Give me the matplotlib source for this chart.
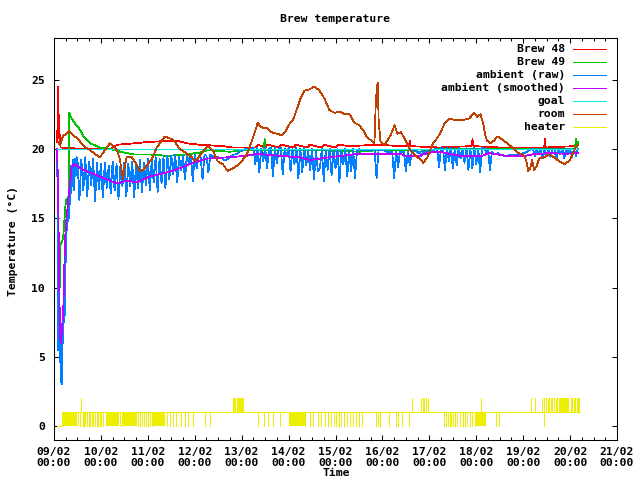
import datetime
import numpy as np
import matplotlib
matplotlib.use("Agg")
import matplotlib.pyplot as plt
from matplotlib.lines import Line2D
from matplotlib.ticker import MultipleLocator, FuncFormatter

plt.rcParams['font.family'] = ['DejaVu Sans Mono']
plt.rcParams['font.weight'] = 'bold'
plt.rcParams['font.size'] = 8.2

START = datetime.datetime(2015, 2, 9)

# all times are days since 09/02 00:00
brew48_t = [0.07, 0.08, 0.09, 0.10, 0.12, 0.14, 0.6, 1.2, 1.35, 1.7, 2.0, 2.6, 2.85, 3.1, 3.6,
            3.8, 4.3, 4.35, 4.5, 4.55, 4.8, 4.85, 5.1, 5.15, 5.4, 5.45, 5.7, 5.75, 6.0, 6.05,
            6.3, 6.9, 7.4, 7.57, 7.58, 7.59, 8.2, 8.9, 8.92, 8.94, 9.5, 10.45, 10.46, 10.48,
            11.1, 11.17]
brew48_v = [20.5, 24.5, 20.8, 22.5, 21.0, 20.1, 20.0, 20.0, 20.3, 20.4, 20.5, 20.6, 20.4, 20.3, 20.2,
            20.1, 20.1, 20.3, 20.1, 20.3, 20.1, 20.3, 20.1, 20.3, 20.1, 20.3, 20.1, 20.3, 20.1, 20.3,
            20.2, 20.3, 20.2, 20.2, 20.6, 20.2, 20.1, 20.2, 20.7, 20.2, 20.1, 20.1, 20.7, 20.1,
            20.2, 20.3]

brew49_t = [0.11, 0.12, 0.13, 0.19, 0.21, 0.24, 0.26, 0.30, 0.32, 0.325, 0.36, 0.41, 0.55, 0.63,
            0.77, 0.98, 1.34, 1.41, 1.69, 2.04, 2.40, 2.83, 3.13, 3.26, 3.74, 4.11, 4.47, 4.49,
            4.51, 5.66, 6.51, 6.87, 7.57, 7.79, 8.21, 9.66, 10.9, 11.1, 11.13, 11.15, 11.17]
brew49_v = [13.1, 10.0, 13.0, 13.5, 14.2, 15.8, 16.3, 16.5, 16.6, 22.6, 22.3, 22.0, 21.4, 20.9,
            20.4, 20.1, 19.9, 19.8, 19.6, 19.6, 19.5, 19.6, 19.75, 19.9, 19.8, 19.9, 19.9, 20.7,
            19.9, 19.9, 19.8, 19.9, 19.9, 19.8, 20.0, 20.0, 20.0, 20.0, 20.7, 20.1, 20.5]

# ambient (raw): start-up transient, then hourly samples from 09/02 12:00
raw_start_t = [0.07, 0.085, 0.095, 0.11, 0.125, 0.14, 0.155, 0.17, 0.185, 0.2, 0.215, 0.23,
               0.245, 0.26, 0.275, 0.29, 0.305, 0.32, 0.335, 0.35, 0.365, 0.38, 0.40, 0.42,
               0.44, 0.46, 0.48]
raw_start_v = [20.0, 5.5, 12.0, 6.0, 8.5, 3.2, 7.0, 3.0, 8.6, 6.0, 10.3, 8.0,
               14.0, 11.8, 15.6, 14.7, 16.3, 15.0, 17.5, 16.0, 18.8, 17.3, 19.2, 17.0,
               19.3, 18.0, 19.4]
raw_hourly = [
    19.3, 16.3, 19.2, 17.0, 19.4, 16.6, 19.1, 17.4, 19.3, 16.2, 19.0, 17.1,
    18.9, 16.5, 19.0, 17.2, 18.8, 16.8, 19.1, 17.0, 18.9, 16.4, 18.8, 17.3,
    19.0, 16.6, 18.9, 17.3, 19.1, 16.5, 19.0, 17.2, 19.2, 16.9, 19.0, 17.4,
    19.3, 17.0, 19.2, 17.6, 19.4, 16.9, 19.3, 17.5, 19.4, 17.2, 19.5, 17.8,
    19.5, 18.2, 19.6, 17.6, 19.4, 18.5, 19.5, 17.8, 19.6, 18.9, 19.5, 17.7,
    19.6, 18.6, 19.5, 19.4, 17.8, 19.6, 19.5, 18.3, 19.6, 19.5, 19.5, 19.4,
    19.4, 19.3, 19.3, 19.2, 19.2, 19.3, 19.4, 19.5, 19.6, 19.6, 19.7, 19.8,
    19.9, 19.9, 20.0, 20.0, 20.1, 20.0, 20.1, 18.9, 20.1, 18.3, 20.0, 19.1,
    20.1, 18.6, 20.0, 20.1, 18.0, 20.1, 19.0, 20.0, 20.1, 18.2, 20.0, 19.5,
    20.1, 18.4, 20.0, 18.9, 20.1, 17.9, 20.0, 18.3, 20.1, 18.8, 19.9, 18.5,
    20.0, 17.8, 19.9, 18.4, 18.6, 20.0, 17.7, 19.9, 18.5, 20.0, 18.1, 19.9,
    18.6, 20.0, 17.6, 19.9, 18.9, 20.0, 18.0, 19.9, 18.4, 20.0, 17.9, 19.9,
    20.0, 19.9, 19.9, 19.9, 19.9, 19.9, 19.9, 19.9, 19.9, 17.9, 19.9, 19.9,
    19.9, 19.9, 19.8, 19.8, 19.8, 19.8, 17.9, 19.8, 18.7, 19.8, 19.8, 19.8,
    18.4, 19.8, 18.8, 19.8, 19.9, 19.9, 19.7, 19.8, 19.5, 19.9, 19.6, 19.8,
    19.9, 19.9, 19.8, 20.0, 20.0, 18.7, 20.1, 20.0, 18.5, 20.1, 19.1, 20.1,
    18.6, 20.0, 18.8, 20.1, 19.3, 20.0, 19.0, 20.1, 18.5, 20.0, 18.6, 20.1,
    18.9, 20.0, 18.3, 20.1, 20.0, 19.8, 20.0, 18.5, 19.8, 19.6, 19.6, 19.7,
    19.6, 19.6, 19.5, 19.5, 19.5, 19.6, 19.6, 19.6, 19.6, 19.5, 19.6, 19.6,
    19.7, 19.7, 19.8, 19.9, 20.0, 20.0, 19.5, 20.0, 19.6, 20.0, 19.3, 20.0,
    19.5, 20.0, 19.4, 20.0, 20.0, 19.2, 20.0, 19.6, 20.0, 19.3, 20.0, 19.6,
    20.0, 19.4, 20.0, 19.5, 20.0,
]

smooth_t = [0.064, 0.085, 0.106, 0.128, 0.149, 0.17, 0.198, 0.234, 0.266, 0.304, 0.34, 0.377,
            0.43, 0.62, 0.98, 1.34, 1.55, 1.77, 2.04, 2.40, 2.68, 2.96, 3.26, 3.74, 4.11, 4.32,
            4.81, 5.23, 5.45, 5.66, 5.87, 6.51, 6.87, 7.36, 7.51, 7.79, 7.94, 8.21, 8.64, 9.13,
            9.28, 9.64, 10.06, 10.19, 10.55, 10.89, 11.17]
smooth_v = [20.0, 17.6, 12.0, 6.5, 6.0, 7.0, 8.4, 13.4, 15.0, 16.3, 17.6, 18.7,
            18.9, 18.5, 18.0, 17.5, 17.7, 17.6, 18.0, 18.3, 18.6, 19.0, 19.3, 19.4, 19.5, 19.65,
            19.5, 19.4, 19.2, 19.3, 19.4, 19.65, 19.65, 19.65, 19.5, 19.5, 19.7, 19.8, 19.5, 19.5,
            19.7, 19.5, 19.5, 19.6, 19.7, 19.65, 19.7]

goal_t = [0.064, 11.17]
goal_v = [20.0, 20.0]

room_t = [0.085, 0.128, 0.19, 0.255, 0.32, 0.38, 0.51, 0.64, 0.77, 0.89, 0.98, 1.04, 1.13,
          1.19, 1.26, 1.34, 1.40, 1.45, 1.47, 1.51, 1.55, 1.66, 1.74, 1.83, 1.91, 2.00, 2.09,
          2.19, 2.30, 2.36, 2.43, 2.51, 2.60, 2.68, 2.77, 2.85, 2.94, 3.00, 3.06, 3.13, 3.21,
          3.28, 3.34, 3.40, 3.49, 3.60, 3.70, 3.81, 3.91, 4.00, 4.11, 4.21, 4.30, 4.34, 4.40,
          4.47, 4.55, 4.64, 4.74, 4.85, 4.94, 5.02, 5.11, 5.19, 5.26, 5.34, 5.45, 5.55, 5.66,
          5.77, 5.87, 5.98, 6.09, 6.19, 6.30, 6.40, 6.51, 6.60, 6.68, 6.77, 6.83, 6.86, 6.88,
          6.90, 6.92, 6.96, 7.04, 7.11, 7.19, 7.26, 7.32, 7.40, 7.49, 7.60, 7.70, 7.79, 7.87,
          7.96, 8.06, 8.15, 8.23, 8.32, 8.43, 8.53, 8.64, 8.74, 8.85, 8.96, 9.02, 9.09, 9.15,
          9.19, 9.23, 9.30, 9.38, 9.45, 9.55, 9.66, 9.77, 9.89, 10.00, 10.06, 10.11, 10.15,
          10.19, 10.23, 10.28, 10.34, 10.45, 10.55, 10.66, 10.77, 10.89, 11.00, 11.09, 11.15]
room_v = [20.5, 20.3, 20.9, 21.1, 21.3, 21.1, 20.7, 20.2, 19.9, 19.6, 19.4, 19.7, 20.1,
          20.4, 20.2, 19.9, 19.3, 18.3, 17.8, 18.8, 19.4, 19.4, 19.0, 18.4, 18.5, 18.9, 19.3,
          20.1, 20.6, 20.9, 20.8, 20.7, 20.4, 20.0, 19.8, 19.6, 19.4, 19.1, 19.3, 19.6, 20.0,
          20.2, 20.0, 19.8, 19.1, 18.9, 18.4, 18.6, 18.8, 19.1, 19.6, 20.5, 21.4, 21.9, 21.6,
          21.5, 21.5, 21.2, 21.1, 21.0, 21.3, 21.8, 22.2, 23.0, 23.7, 24.2, 24.3, 24.5, 24.2,
          23.6, 22.8, 22.6, 22.7, 22.5, 22.5, 21.9, 21.7, 21.3, 20.8, 20.6, 20.4, 23.5, 24.3,
          24.8, 22.0, 20.5, 20.3, 20.6, 21.1, 21.7, 21.1, 21.2, 20.6, 19.9, 19.5, 19.3, 19.0,
          19.4, 20.3, 20.7, 21.1, 21.8, 22.2, 22.1, 22.1, 22.1, 22.2, 22.6, 22.3, 22.5, 21.8,
          21.0, 20.6, 20.4, 20.6, 20.9, 20.7, 20.4, 20.1, 19.7, 19.6, 19.2, 18.4, 18.6,
          19.2, 18.5, 18.7, 19.3, 19.4, 19.6, 19.4, 19.1, 18.9, 19.2, 19.9, 20.3]

# heater: 1 = on (base), with switches to 0 or 2
heater_on = [0.17, 11.21]
heater_start_off = [0.064, 0.17]
heater_off_blocks = [(0.17, 0.50), (1.10, 1.38), (1.47, 1.76), (2.10, 2.36), (5.01, 5.38),
                     (8.99, 9.21)]
heater_off_pulses = [0.52, 0.55, 0.61, 0.64, 0.67, 0.70, 0.74, 0.77, 0.80, 0.84, 0.87, 0.91,
                     0.94, 0.98, 1.01, 1.05, 1.40, 1.44, 1.79, 1.83, 1.87, 1.91, 1.96, 2.01,
                     2.04, 2.08, 2.40, 2.47, 2.54, 2.61, 2.70, 2.79, 2.86, 2.96, 3.21, 3.32,
                     4.35, 4.47, 4.56, 4.67, 4.82, 5.45, 5.52, 5.62, 5.70, 5.77, 5.84, 5.91,
                     5.96, 6.01, 6.07, 6.12, 6.19, 6.24, 6.31, 6.37, 6.44, 6.50, 6.56, 6.87,
                     6.90, 6.94, 7.15, 7.28, 7.33, 7.42, 7.57, 8.32, 8.36, 8.39, 8.43, 8.46,
                     8.50, 8.55, 8.60, 8.65, 8.71, 8.77, 8.81, 8.87, 8.92, 8.97, 9.42, 9.49,
                     10.45]
heater_two_blocks = [(3.81, 3.87), (3.90, 4.06), (10.77, 10.98)]
heater_two_pulses = [0.58, 7.62, 7.82, 7.86, 7.89, 7.93, 7.98, 9.10, 10.16, 10.25, 10.41,
                     10.45, 10.49, 10.52, 10.56, 10.60, 10.62, 10.66, 10.69, 10.72, 11.02,
                     11.05, 11.08, 11.11, 11.14, 11.17, 11.20]

fig = plt.figure(figsize=(6.4, 4.8), dpi=100)
ax = fig.add_axes([54 / 640, 40 / 480, 563 / 640, 402 / 480])

LW = 0.55
kw = dict(lw=LW, antialiased=False)
c48, c49, craw, csm, cgoal, croom, cheat = ('#ff0000', '#00c000', '#0080ff', '#c000ff',
                                           '#00eeee', '#c04000', '#eeee00')

ax.plot(brew48_t, brew48_v, color=c48, **kw)
ax.plot(brew49_t, brew49_v, color=c49, **kw)
raw_t = list(raw_start_t) + list(0.5 + np.arange(len(raw_hourly)) / 24)
raw_v = list(raw_start_v) + raw_hourly
ax.plot(raw_t, raw_v, color=craw, **kw)
ax.plot(smooth_t, smooth_v, color=csm, **kw)
ax.plot(goal_t, goal_v, color=cgoal, **kw)
ax.plot(room_t, room_v, color=croom, **kw)

# heater
ax.plot(heater_start_off, [0, 0], color=cheat, **kw)
ax.plot(heater_on, [1, 1], color=cheat, **kw)
for a, b in heater_off_blocks:
    ax.fill_between([a, b], 0, 1, color=cheat, lw=0, antialiased=False)
for a, b in heater_two_blocks:
    ax.fill_between([a, b], 1, 2, color=cheat, lw=0, antialiased=False)
ax.vlines(heater_off_pulses, 0, 1, color=cheat, **kw)
ax.vlines(heater_two_pulses, 1, 2, color=cheat, **kw)

ax.set_xlim(0, 12)
ax.set_ylim(-1, 28)
ax.xaxis.set_major_locator(MultipleLocator(1))
ax.xaxis.set_minor_locator(MultipleLocator(0.25))
ax.xaxis.set_major_formatter(FuncFormatter(
    lambda x, pos: (START + datetime.timedelta(days=x)).strftime('%d/%m\n%H:%M')))
ax.yaxis.set_major_locator(MultipleLocator(5))
ax.tick_params(which='both', direction='in', top=True, right=True, width=0.75)
ax.tick_params(which='major', length=3.6)
ax.tick_params(which='minor', length=2.2)
ax.tick_params(axis='x', which='major', pad=5)
ax.tick_params(axis='y', which='major', pad=6.5)
for lab in ax.get_xticklabels():
    lab.set_linespacing(1.15)
for s in ax.spines.values():
    s.set_linewidth(0.75)

fig.text(335.5 / 640, 1 - 18.5 / 480, 'Brew temperature', ha='center', va='center')
fig.text(12.7 / 640, 1 - 241 / 480, 'Temperature (°C)', ha='center', va='center',
         rotation=90)
fig.text(336 / 640, 1 - 473 / 480, 'Time', ha='center', va='center')

# legend, gnuplot style (text then sample line)
labels = ['Brew 48', 'Brew 49', 'ambient (raw)', 'ambient (smoothed)', 'goal', 'room', 'heater']
colors = [c48, c49, craw, csm, cgoal, croom, cheat]
for i, (lab, col) in enumerate(zip(labels, colors)):
    y = 1 - (48.7 + 13 * i) / 480
    fig.text(565 / 640, y, lab, ha='right', va='center')
    fig.add_artist(Line2D([573 / 640, 606 / 640], [y, y], transform=fig.transFigure,
                          color=col, lw=LW, antialiased=False))

fig.savefig('out.png', dpi=100)
